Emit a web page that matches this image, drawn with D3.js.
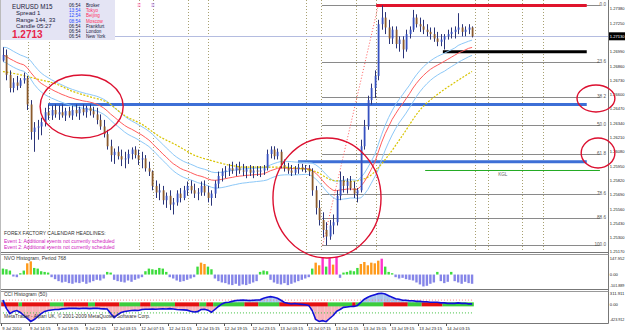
<!DOCTYPE html>
<html><head><meta charset="utf-8">
<script src="https://cdn.jsdelivr.net/npm/d3@7"></script>
<style>
body{margin:0;background:#fff;overflow:hidden}
svg{display:block;font-family:'Liberation Sans',Arial,sans-serif}
</style></head><body>
<svg id="chart" width="625" height="332"></svg>
<script>
// EURUSD candles [open, high, low, close], one every 30 minutes
const candles = [
[1.2691,1.2703,1.2690,1.2696],[1.2696,1.2701,1.2673,1.2678],[1.2678,1.2682,1.2662,1.2666],[1.2666,1.2675,1.2662,1.2671],[1.2671,1.2677,1.2664,1.2668],
[1.2668,1.2675,1.2666,1.2673],[1.2673,1.2680,1.2670,1.2675],[1.2675,1.2677,1.2646,1.2651],[1.2651,1.2655,1.2619,1.2626],[1.2626,1.2635,1.2608,1.2630],
[1.2630,1.2637,1.2619,1.2631],[1.2631,1.2639,1.2623,1.2635],[1.2635,1.2648,1.2631,1.2644],[1.2644,1.2651,1.2637,1.2641],[1.2641,1.2650,1.2637,1.2646],
[1.2646,1.2651,1.2639,1.2642],[1.2642,1.2650,1.2637,1.2644],[1.2644,1.2651,1.2639,1.2641],[1.2641,1.2648,1.2636,1.2645],[1.2645,1.2649,1.2639,1.2641],
[1.2641,1.2650,1.2637,1.2646],[1.2646,1.2651,1.2640,1.2643],[1.2643,1.2649,1.2637,1.2647],[1.2647,1.2651,1.2641,1.2644],[1.2644,1.2650,1.2639,1.2648],
[1.2648,1.2651,1.2641,1.2645],[1.2645,1.2649,1.2639,1.2642],[1.2642,1.2648,1.2633,1.2637],[1.2637,1.2642,1.2628,1.2631],[1.2631,1.2637,1.2621,1.2624],
[1.2624,1.2628,1.2610,1.2613],[1.2613,1.2619,1.2599,1.2605],[1.2605,1.2611,1.2597,1.2608],[1.2608,1.2613,1.2601,1.2604],[1.2604,1.2610,1.2595,1.2601],
[1.2601,1.2608,1.2593,1.2602],[1.2602,1.2610,1.2597,1.2606],[1.2606,1.2612,1.2601,1.2610],[1.2610,1.2613,1.2602,1.2605],[1.2605,1.2610,1.2596,1.2601],
[1.2601,1.2608,1.2593,1.2602],[1.2602,1.2605,1.2590,1.2593],[1.2593,1.2599,1.2586,1.2590],[1.2590,1.2591,1.2573,1.2577],[1.2577,1.2582,1.2566,1.2571],
[1.2571,1.2579,1.2564,1.2573],[1.2573,1.2577,1.2560,1.2564],[1.2564,1.2571,1.2557,1.2568],[1.2568,1.2573,1.2555,1.2560],[1.2560,1.2566,1.2551,1.2562],
[1.2562,1.2573,1.2559,1.2570],[1.2570,1.2575,1.2562,1.2566],[1.2566,1.2577,1.2564,1.2573],[1.2573,1.2581,1.2568,1.2577],[1.2577,1.2582,1.2570,1.2573],
[1.2573,1.2579,1.2566,1.2570],[1.2570,1.2575,1.2564,1.2571],[1.2571,1.2581,1.2568,1.2577],[1.2577,1.2582,1.2568,1.2571],[1.2571,1.2577,1.2562,1.2566],
[1.2566,1.2573,1.2559,1.2570],[1.2570,1.2582,1.2566,1.2579],[1.2579,1.2590,1.2575,1.2586],[1.2586,1.2593,1.2581,1.2590],[1.2590,1.2595,1.2584,1.2591],
[1.2591,1.2597,1.2586,1.2593],[1.2593,1.2599,1.2588,1.2591],[1.2591,1.2597,1.2586,1.2594],[1.2594,1.2599,1.2588,1.2591],[1.2591,1.2597,1.2586,1.2590],
[1.2590,1.2595,1.2584,1.2592],[1.2592,1.2596,1.2586,1.2589],[1.2589,1.2595,1.2584,1.2591],[1.2591,1.2595,1.2586,1.2590],[1.2590,1.2595,1.2585,1.2591],
[1.2591,1.2596,1.2587,1.2593],[1.2593,1.2610,1.2591,1.2606],[1.2606,1.2613,1.2602,1.2610],[1.2610,1.2613,1.2601,1.2604],[1.2604,1.2611,1.2601,1.2608],
[1.2608,1.2610,1.2593,1.2596],[1.2596,1.2601,1.2590,1.2593],[1.2593,1.2598,1.2588,1.2591],[1.2591,1.2596,1.2586,1.2589],[1.2589,1.2595,1.2587,1.2592],
[1.2592,1.2597,1.2588,1.2594],[1.2594,1.2597,1.2590,1.2592],[1.2592,1.2596,1.2589,1.2593],[1.2593,1.2596,1.2586,1.2590],[1.2590,1.2593,1.2568,1.2573],
[1.2573,1.2577,1.2551,1.2557],[1.2557,1.2564,1.2541,1.2546],[1.2546,1.2553,1.2530,1.2537],[1.2537,1.2544,1.2523,1.2531],[1.2531,1.2546,1.2528,1.2541],
[1.2541,1.2551,1.2533,1.2544],[1.2544,1.2573,1.2541,1.2568],[1.2568,1.2590,1.2564,1.2582],[1.2582,1.2586,1.2571,1.2577],[1.2577,1.2584,1.2570,1.2581],
[1.2581,1.2586,1.2573,1.2575],[1.2575,1.2581,1.2566,1.2570],[1.2570,1.2575,1.2562,1.2573],[1.2573,1.2619,1.2571,1.2613],[1.2613,1.2637,1.2610,1.2631],
[1.2631,1.2659,1.2628,1.2655],[1.2655,1.2670,1.2651,1.2666],[1.2666,1.2682,1.2657,1.2677],[1.2677,1.2728,1.2673,1.2724],[1.2724,1.2741,1.2719,1.2730],
[1.2730,1.2735,1.2715,1.2721],[1.2721,1.2728,1.2706,1.2711],[1.2711,1.2722,1.2706,1.2719],[1.2719,1.2722,1.2702,1.2706],[1.2706,1.2713,1.2699,1.2710],
[1.2710,1.2713,1.2693,1.2701],[1.2701,1.2719,1.2699,1.2715],[1.2715,1.2722,1.2711,1.2719],[1.2719,1.2737,1.2717,1.2730],[1.2730,1.2733,1.2721,1.2724],
[1.2724,1.2730,1.2717,1.2722],[1.2722,1.2728,1.2715,1.2719],[1.2719,1.2724,1.2713,1.2717],[1.2717,1.2721,1.2710,1.2715],[1.2715,1.2721,1.2708,1.2711],
[1.2711,1.2717,1.2704,1.2708],[1.2708,1.2715,1.2704,1.2710],[1.2710,1.2715,1.2701,1.2713],[1.2713,1.2719,1.2710,1.2715],[1.2715,1.2721,1.2711,1.2717],
[1.2717,1.2722,1.2711,1.2719],[1.2719,1.2734,1.2715,1.2721],[1.2721,1.2724,1.2713,1.2717],[1.2717,1.2722,1.2713,1.2719],[1.2719,1.2724,1.2715,1.2721],
[1.2721,1.2722,1.2712,1.2713]
];

// slow yellow MA: [bar, price]
const slowMA = [
[0,1.2681],[5,1.2678],[10,1.2674],[15,1.2670],[20,1.2663],[25,1.2658],[30,1.2653],[35,1.2641],[40,1.2633],[45,1.2622],
[50,1.2614],[55,1.2605],[60,1.2600],[65,1.2596],[70,1.2594],[75,1.2594],[80,1.2594],[85,1.2593],[90,1.2590],[95,1.2582],
[100,1.2581],[105,1.2585],[110,1.2601],[115,1.2623],[120,1.2646],[125,1.2660],[130,1.2671],[135,1.2681]
];

const nvo = [
45,40,30,-15,-20,10,30,85,100,50, 45,25,20,15,-20,-35,-50,-60,-55,-65,
-70,-60,-65,-55,-70,-60,-50,-40,-45,-30, 20,15,-40,-50,-55,-60,-45,-55,-40,-30,
-20,25,45,40,35,50,45,20,-20,-30, -45,-55,-50,-40,-30,-20,60,90,80,60,
40,-30,-50,-60,-65,-75,-80,-70,-85,-75, -80,-70,-60,-50,20,30,25,-40,-60,-70,
-75,-65,-80,-70,-60,-50,-40,-30,-20,45, 90,70,130,60,125,75,135,-25,15,20,
30,25,50,80,95,70,90,85,105,120, 60,20,10,-20,-30,-25,-35,-40,-45,-60,
-75,-90,-85,-70,-60,20,-50,-65,-55,20, -50,-60,-70,-55,-65,-70
];

const cci = [
100,-95,-215,-165,-145,-190,-260,-330,-400,-355, -285,-215,-165,-145,-130,-120,-120,-105,-100,-95,
-90,-95,-100,-90,-95,-100,-95,-90,-100,-105, -110,-215,-310,-240,-190,-165,-155,-145,-140,-145,
-120,-115,-115,-110,-115,-110,-105,-110,-100,-110, -120,-125,-130,-135,-160,-180,-170,-120,-115,-135,
-185,-120,-50,10,45,50,70,90,95,100, 95,90,95,100,105,140,165,180,165,140,
95,45,25,10,20,10,0,-10,-25,-145, -355,-400,-380,-405,-330,-260,-165,-120,-70,-60,
-50,-48,-25,45,120,165,200,225,250,260, 240,200,165,130,120,95,95,85,85,70,
70,60,60,48,48,48,35,35,24,24, 24,35,24,24,12,12
];

// trend strip under the CCI: [from bar, to bar, colour]
const cciStrip = [
[0,5,'r'],[5,6,'g'],[6,14,'r'],[14,18,'g'],[18,25,'r'],[25,27,'g'],[27,34,'r'],[34,40,'g'],[40,43,'r'],[43,50,'g'],
[50,57,'r'],[57,59,'g'],[59,61,'r'],[61,70,'g'],[70,74,'r'],[74,80,'g'],[80,94,'r'],[94,101,'g'],[101,102,'r'],[102,110,'g'],
[110,117,'r'],[117,121,'g'],[121,127,'r'],[127,136,'g']
];

const priceTicks = [1.2517,1.2530,1.2543,1.2556,1.2569,1.2582,1.2595,1.2608,1.2621,1.2634,1.2647,1.2660,1.2673,1.2686,1.2699,1.2712,1.2725,1.2738];
const fibHigh = 1.2741, fibLow = 1.2523;
const fibLevels = [0,23.6,38.2,50,61.8,78.6,88.6,100];
const timeLabels = ["9 Jul 2010","9 Jul 14:15","9 Jul 18:15","9 Jul 22:15","12 Jul 03:15","12 Jul 07:15","12 Jul 11:15","12 Jul 15:15","12 Jul 19:15","12 Jul 23:15","13 Jul 03:15","13 Jul 07:15","13 Jul 11:15","13 Jul 15:15","13 Jul 19:15","13 Jul 23:15","14 Jul 03:15"];
const eventBars = [7.2,13.3,39.2,43.2,53.3,59,87.2,91.5,101.6,107.4,135.8,139.6,149.4,155.4];
const lastPrice = 1.2713;
const nvoLabels = [[147.952,"147.952"],[0,"0.00"],[-101.889,"-101.889"]];
const cciLabels = [[311.911,"311.911"],[0,"0.00"],[-423.912,"-423.912"]];

// drawn lines: [from bar, to bar, price, colour, width]
const levels = [
[13,168,1.2651,'#3d6fd6',3],
[84.9,168,1.2599,'#3d6fd6',3],
[126.6,168,1.2699,'#000',3],
[121.5,171.8,1.2591,'#22aa22',1],
[107.4,168,fibHigh,'#e0142c',3]
];
// circled areas: [bar from, bar to, price top, price bottom]
const circles = [[10.7,34.6,1.26778,1.26205],[77.7,108.8,1.26205,1.25115],[165.2,176.1,1.26687,1.26442],[166.4,176.1,1.26205,1.25933]];

const svg = d3.select("#chart");
const x = d3.scaleLinear().domain([0,135]).range([2.94,472.07]);
const y = d3.scaleLinear().domain([1.2746,1.25169]).range([0,252]);
const nvoY = d3.scaleLinear().domain([-101.889,147.952]).range([288,255]);
const cciY = d3.scaleLinear().domain([-423.912,311.911]).range([322.5,291]);
const step = x(1)-x(0);

svg.append("clipPath").attr("id","main").append("rect").attr("width",608).attr("height",252);
const main = svg.append("g").attr("clip-path","url(#main)");

// event lines
main.selectAll(".ev").data(eventBars).join("line")
  .attr("x1",d=>Math.round(x(d))+0.5).attr("x2",d=>Math.round(x(d))+0.5).attr("y1",0).attr("y2",252)
  .attr("stroke","#a8a070").attr("stroke-dasharray","1,2");
main.selectAll(".evm").data([[39.2,'#ff4fa0'],[43.2,'#9a5ad0']]).join("text")
  .attr("x",d=>x(d[0])).attr("y",7).attr("text-anchor","middle").attr("font-size",6).attr("fill",d=>d[1]).text("≡");

// fibonacci
const fibPrice = l => fibHigh-(fibHigh-fibLow)*l/100;
main.selectAll(".fib").data(fibLevels).join("line")
  .attr("x1",x(91.8)).attr("x2",x(171.8)).attr("y1",d=>Math.round(y(fibPrice(d)))+0.5).attr("y2",d=>Math.round(y(fibPrice(d)))+0.5)
  .attr("stroke","#8a8a8a");
main.selectAll(".fibt").data(fibLevels).join("text")
  .attr("x",606).attr("y",d=>Math.max(5,y(fibPrice(d))+1)).attr("text-anchor","end").attr("font-size",4.6).attr("fill","#555")
  .text(d=>d3.format(".1f")(d));
main.append("line").attr("x1",x(92)).attr("y1",y(fibLow)).attr("x2",x(108)).attr("y2",y(fibHigh))
  .attr("stroke","#ff5a5a").attr("stroke-dasharray","1,2");

// current price line
main.append("line").attr("x1",0).attr("x2",608).attr("y1",Math.round(y(lastPrice))+0.5).attr("y2",Math.round(y(lastPrice))+0.5)
  .attr("stroke","#b4bce0");

// horizontal levels
main.selectAll(".lvl").data(levels).join("line")
  .attr("x1",d=>x(d[0])).attr("x2",d=>x(d[1])).attr("y1",d=>y(d[2])).attr("y2",d=>y(d[2]))
  .attr("stroke",d=>d[3]).attr("stroke-width",d=>d[4]);
main.append("text").attr("x",x(142.5)).attr("y",y(1.2591)+6).attr("font-size",4.6).attr("fill","#666").text("KGL");

// moving averages
function ema(vals,n){const a=2/(n+1);let e=vals[0];return vals.map(v=>e=e+a*(v-e));}
const maHigh = ema(candles.map(c=>c[1]),26), maLow = ema(candles.map(c=>c[2]),26), maClose = ema(candles.map(c=>c[3]),26);
const ln = d3.line().x((d,i)=>x(i)).y(d=>y(d));
main.append("path").attr("d",ln(maHigh)).attr("fill","none").attr("stroke","#8cc8f8");
main.append("path").attr("d",ln(maLow)).attr("fill","none").attr("stroke","#8cc8f8");
main.append("path").attr("d",ln(maClose)).attr("fill","none").attr("stroke","#ff5c5c");
main.append("path").attr("d",d3.line().curve(d3.curveMonotoneX).x(d=>x(d[0])).y(d=>y(d[1]))(slowMA))
  .attr("fill","none").attr("stroke","#d8c400").attr("stroke-width",1.2).attr("stroke-dasharray","2,1.5");

// candles
const cg = main.selectAll(".c").data(candles).join("g");
cg.append("line").attr("x1",(d,i)=>Math.round(x(i))+0.5).attr("x2",(d,i)=>Math.round(x(i))+0.5)
  .attr("y1",d=>y(d[1])).attr("y2",d=>y(d[2])).attr("stroke","#2a3478");
cg.append("rect").attr("x",(d,i)=>Math.round(x(i))-0.3).attr("width",1.8)
  .attr("y",d=>y(Math.max(d[0],d[3]))).attr("height",d=>Math.max(1,Math.abs(y(d[0])-y(d[3]))))
  .attr("fill",d=>d[3]>=d[0]?"#3550c0":"#8a5a2c");

// info box
const info = svg.append("g");
info.append("rect").attr("width",115).attr("height",40).attr("fill","#e4e4f4");
const it = (tx,ty,s,c,t,w)=>info.append("text").attr("x",tx).attr("y",ty).attr("font-size",s).attr("fill",c).attr("font-weight",w||"normal").text(t);
it(12,8.5,6.3,"#1a1a40","EURUSD    M15");
it(16,15,6,"#1a1a40","Spread   1");
it(16,21.5,6,"#1a1a40","Range    144, 33");
it(16,27.5,6,"#1a1a40","Candle   05:27");
it(12,38,10,"#e8244a","1.2713","bold");
const clocks = [["06:54","Broker","#1a1a40","#1a1a40"],["13:54","Tokyo","#2a4cff","#ff3060"],["12:54","Beijing","#2a4cff","#ff3060"],
  ["08:54","Moscow","#2a4cff","#ff3060"],["06:54","Frankfurt","#1a1a40","#1a1a40"],["06:54","London","#1a1a40","#1a1a40"],["06:54","New York","#1a1a40","#1a1a40"]];
clocks.forEach((c,i)=>{const ty=7+i*5.2;it(69,ty,4.6,c[2],c[0]);it(86,ty,4.6,c[3],c[1]);});

// calendar headlines
svg.append("text").attr("x",4).attr("y",235).attr("font-size",5).attr("fill","#333").text("FOREX FACTORY CALENDAR  HEADLINES:");
svg.append("text").attr("x",4).attr("y",242.5).attr("font-size",5).attr("fill","#d020c0").text("Event 1: Additional events not currently scheduled");
svg.append("text").attr("x",4).attr("y",248.5).attr("font-size",5).attr("fill","#d020c0").text("Event 2: Additional events not currently scheduled");

// NVO histogram
const nvoCol = v => v>=110?"#ff33cc":v>=70?"#ff9a1a":v>0?"#3ddc3d":"#8585e8";
svg.selectAll(".nv").data(nvo).join("rect")
  .attr("x",(d,i)=>x(i)-1.2).attr("width",2.4)
  .attr("y",d=>Math.min(nvoY(0),nvoY(d))).attr("height",d=>Math.abs(nvoY(d)-nvoY(0)))
  .attr("fill",d=>nvoCol(d));
svg.append("text").attr("x",4).attr("y",260).attr("font-size",5).attr("fill","#333").text("NVO Histogram, Period 768");

// CCI histogram
svg.selectAll(".cb").data(cci).join("rect")
  .attr("x",(d,i)=>x(i)-step/2).attr("width",step)
  .attr("y",d=>Math.min(cciY(0),cciY(d))).attr("height",d=>Math.abs(cciY(d)-cciY(0)))
  .attr("fill",d=>d<0?"#f8b4ba":"#a9c6ec");
svg.selectAll(".cs").data(cciStrip).join("rect")
  .attr("x",d=>x(d[0])-step/2).attr("width",d=>(d[1]-d[0])*step).attr("y",cciY(0)-2).attr("height",4)
  .attr("fill",d=>d[2]==='r'?"#e41010":"#3ccc3c");
svg.append("line").attr("x1",x(0)).attr("x2",x(135)).attr("y1",cciY(100)).attr("y2",cciY(100)).attr("stroke","#ff8080").attr("stroke-dasharray","1,2");
svg.append("line").attr("x1",x(0)).attr("x2",x(135)).attr("y1",cciY(-200)).attr("y2",cciY(-200)).attr("stroke","#40c040").attr("stroke-dasharray","1,2");
svg.append("path").attr("d",d3.line().x((d,i)=>x(i)).y(d=>cciY(d))(cci)).attr("fill","none").attr("stroke","#1010d8").attr("stroke-width",1.6);
svg.append("text").attr("x",4).attr("y",296).attr("font-size",5).attr("fill","#333").text("CCI Histogram (50)");
svg.append("text").attr("x",4).attr("y",318).attr("font-size",5).attr("fill","#333").text("MetaTrader - Alpari UK, © 2001-2009 MetaQuotes Software Corp.");

// frames
const fr = (x1,y1,x2,y2,c)=>svg.append("line").attr("x1",x1).attr("y1",y1).attr("x2",x2).attr("y2",y2).attr("stroke",c||"#777");
fr(608.5,0,608.5,323.5); fr(0,252.5,608.5,252.5); fr(0,254.5,608.5,254.5,"#999");
fr(0,289.5,608.5,289.5); fr(0,291.5,608.5,291.5,"#999"); fr(0,323.5,608.5,323.5); fr(0.5,0,0.5,323.5,"#bbb");

// right axis: shrink the font of long labels so they fit the 15px margin
const axText = (ty,t,c)=>{const el=svg.append("text").attr("x",609.8).attr("y",ty).attr("font-size",4.2).attr("fill",c||"#222").text(t);
  const w=el.node().getComputedTextLength(); if(w>14.6) el.attr("font-size",(4.2*14.6/w).toFixed(2));};
priceTicks.forEach(d=>axText(y(d)+1.6,d3.format(".5f")(d)));
svg.append("rect").attr("x",609).attr("y",y(lastPrice)-4).attr("width",16).attr("height",8).attr("fill","#000");
axText(y(lastPrice)+1.6,d3.format(".5f")(lastPrice),"#fff");
nvoLabels.forEach(d=>axText(Math.min(286.5,Math.max(260,nvoY(d[0])+1.6)),d[1]));
cciLabels.forEach(d=>axText(Math.min(321,Math.max(295,cciY(d[0])+1.6)),d[1]));

// time axis
const tk = (i)=>x(-0.5+8*i);
svg.selectAll(".tt").data(timeLabels).join("line")
  .attr("x1",(d,i)=>Math.round(tk(i))+0.5).attr("x2",(d,i)=>Math.round(tk(i))+0.5).attr("y1",323.5).attr("y2",326).attr("stroke","#555");
svg.selectAll(".tl").data(timeLabels).join("text")
  .attr("x",(d,i)=>tk(i)+1).attr("y",329.5).attr("font-size",4.2).attr("fill","#222").text(d=>d);

// red circles
svg.selectAll(".ring").data(circles).join("ellipse")
  .attr("cx",d=>(x(d[0])+x(d[1]))/2).attr("cy",d=>(y(d[2])+y(d[3]))/2)
  .attr("rx",d=>(x(d[1])-x(d[0]))/2).attr("ry",d=>(y(d[3])-y(d[2]))/2)
  .attr("fill","none").attr("stroke","#dc1030").attr("stroke-width",1.4);
</script>
</body></html>
